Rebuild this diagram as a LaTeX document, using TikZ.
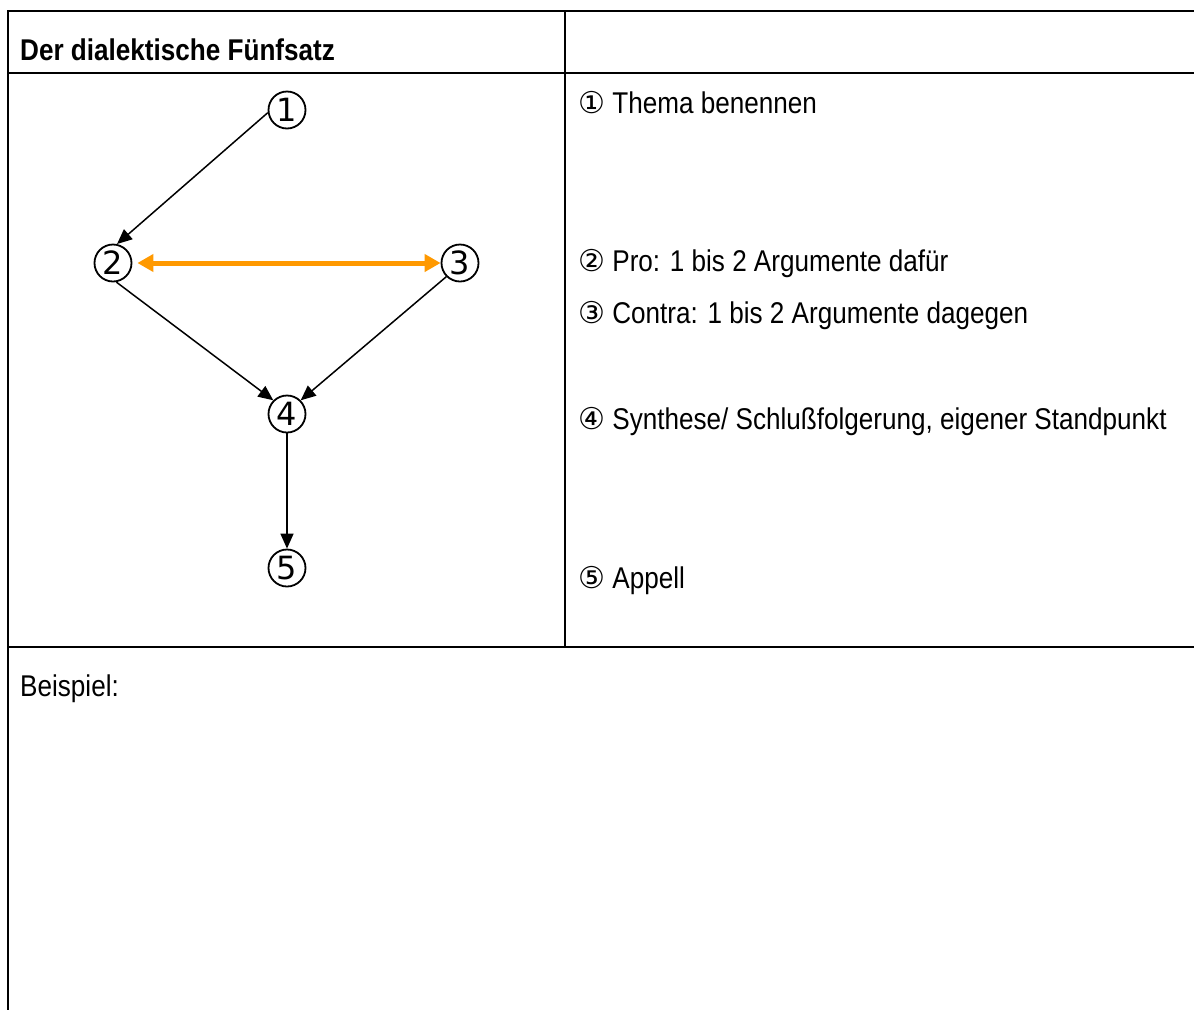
\documentclass[tikz,border=0pt]{standalone}
\usepackage{fontspec}
\setmainfont[FakeStretch=0.87]{Liberation Sans}
\newfontfamily\digitfont{DejaVu Sans}
\newfontfamily\symfont{DejaVu Sans}
\usetikzlibrary{arrows.meta}
\definecolor{orangeA}{RGB}{255,153,0}

\begin{document}
\begin{tikzpicture}[x=1pt,y=-1pt,
  rule/.style={line width=2pt},
  num/.style={circle,draw,line width=1.8pt,minimum size=37pt,inner sep=0pt,
    font=\digitfont\fontsize{32}{32}\selectfont},
  txt/.style={anchor=base west,inner sep=0pt,font=\fontsize{30}{36}\selectfont},
  flow/.style={line width=1.5pt,-{Triangle[length=15pt,width=13pt]}},
  dual/.style={draw=orangeA,line width=5pt,
    {Triangle[length=16pt,width=17pt]}-{Triangle[length=16pt,width=17pt]}}
]
\useasboundingbox (0,0) rectangle (1194,1010);

% table rules
\draw[rule] (8,11) -- (1194,11);
\draw[rule] (8,73) -- (1194,73);
\draw[rule] (8,647) -- (1194,647);
\draw[rule] (8,10) -- (8,1010);
\draw[rule] (565,10) -- (565,647);

% header
\node[txt,font=\fontsize{30}{36}\selectfont\bfseries] (head) at (20,60) {Der dialektische Fünfsatz};

% flow diagram
\node[num] (n1) at (287,110) {1};
\node[num] (n2) at (113,263) {2};
\node[num] (n3) at (460,263) {3};
\node[num] (n4) at (287,414) {4};
\node[num] (n5) at (287,568) {5};

\draw[flow] (n1.188) -- (n2.78);
\draw[dual] ([xshift=5pt]n2.east) -- (n3.west);
\draw[flow] (n2.-80) -- (n4.135);
\draw[flow] (n3.-135) -- (n4.45);
\draw[flow] (n4.south) -- (n5.north);

% legend
\node[txt] (t1) at (578,113) {{\symfont ①} Thema benennen};
\node[txt] (t2) at (578,271) {{\symfont ②} Pro: 1 bis 2 Argumente dafür};
\node[txt] (t3) at (578,323) {{\symfont ③} Contra: 1 bis 2 Argumente dagegen};
\node[txt] (t4) at (578,429) {{\symfont ④} Synthese/ Schlußfolgerung, eigener Standpunkt};
\node[txt] (t5) at (578,588) {{\symfont ⑤} Appell};

% example area
\node[txt] (ex) at (20,696) {Beispiel:};
\end{tikzpicture}
\end{document}
